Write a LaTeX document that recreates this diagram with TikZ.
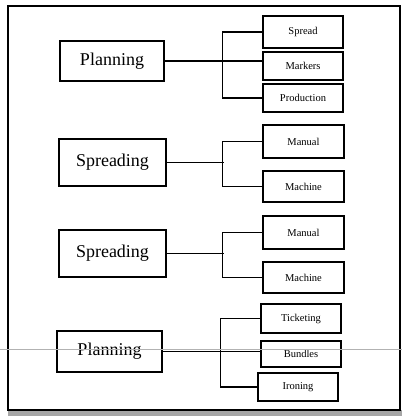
\documentclass[tikz,border=0pt]{standalone}
\usepackage{fontspec}
\setmainfont{Liberation Serif}
\begin{document}
\begin{tikzpicture}[x=1pt,y=-1pt,
  mainbox/.style={draw,line width=1.5pt,rectangle,inner sep=0pt,font=\fontsize{18}{20}\selectfont},
  subbox/.style={draw,line width=1.4pt,rectangle,inner sep=0pt,font=\fontsize{10.5}{12}\selectfont},
  link/.style={line width=1.4pt}]
\useasboundingbox (0,0) rectangle (402,416);
% scan shadow and frame
\fill[gray!70] (8,410) rectangle (402,416);
\draw[line width=1.8pt] (8,6) rectangle (400,410);
% main boxes
\node[mainbox,minimum width=104pt,minimum height=40pt] (P1) at (112,61) {Planning};
\node[mainbox,minimum width=107pt,minimum height=47pt] (S1) at (112.5,162.5) {Spreading};
\node[mainbox,minimum width=107pt,minimum height=47pt] (S2) at (112.5,253.5) {Spreading};
\node[mainbox,minimum width=105pt,minimum height=41pt] (P2) at (109.5,351.5) {Planning};
% sub boxes
\node[subbox,minimum width=80pt,minimum height=32pt] (Spread) at (303,32) {Spread};
\node[subbox,minimum width=80pt,minimum height=28pt] (Markers) at (303,66) {Markers};
\node[subbox,minimum width=80pt,minimum height=28pt] (Production) at (303,98) {Production};
\node[subbox,minimum width=81pt,minimum height=33pt] (Man1) at (303.5,141.5) {Manual};
\node[subbox,minimum width=81pt,minimum height=31pt] (Mac1) at (303.5,186.5) {Machine};
\node[subbox,minimum width=81pt,minimum height=33pt] (Man2) at (303.5,232.5) {Manual};
\node[subbox,minimum width=81pt,minimum height=31pt] (Mac2) at (303.5,277.5) {Machine};
\node[subbox,minimum width=80pt,minimum height=29pt] (Tick) at (301,318.5) {Ticketing};
\node[subbox,minimum width=80pt,minimum height=26pt] (Bund) at (301,354) {Bundles};
\node[subbox,minimum width=80pt,minimum height=28pt] (Iron) at (298,387) {Ironing};
% connectors
\draw[link] (P1.east) -- (P1.east -| Markers.west);
\draw[link] (Spread.west) -- ++(-40,0) |- (Production.west);
\draw[link] (S1.east) -- ++(57,0);
\draw[link] (Man1.west) -- ++(-40,0) |- (Mac1.west);
\draw[link] (S2.east) -- ++(57,0);
\draw[link] (Man2.west) -- ++(-40,0) |- (Mac2.west);
\draw[link] (P2.east) -- (P2.east -| Bund.west);
\draw[link] (Tick.west) -- ++(-40,0) |- (Iron.west);
% scan line
\draw[gray!60,line width=0.6pt] (0,349) -- (402,349);
\end{tikzpicture}
\end{document}
